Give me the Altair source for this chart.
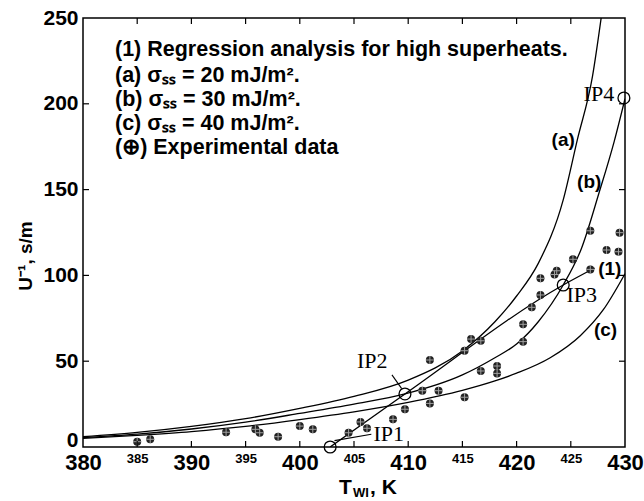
import altair as alt
import pandas as pd

# ---- data ----
# theoretical curves
a_T = [380, 385, 390, 395, 400, 405, 410, 415, 418, 420, 422, 424.3, 425.6, 427, 427.8]
a_U = [6, 8.5, 12, 16.5, 22.5, 29.5, 39, 56, 73, 88, 107, 144, 179, 216, 250]
b_T = [380, 385, 390, 395, 400, 405, 409.7, 415, 418, 420, 422, 424.3, 426, 427.6, 429, 430]
b_U = [5.5, 7.5, 10.5, 14.5, 19.6, 25, 30.9, 42, 52, 60, 73, 94.4, 116, 148, 178, 203]
c_T = [380, 385, 390, 395, 400, 405, 410, 415, 418, 420, 423.1, 425.9, 428, 430]
c_U = [5, 6.8, 9, 12, 16, 20.5, 26, 33, 38.5, 43, 52, 65, 80, 101]
# regression line (1)
r_T = [402.8, 409.7, 424.3, 427.2]
r_U = [0, 30.9, 94.4, 104.3]
# experimental data
exp_T = [385.0, 386.2, 393.2, 395.9, 396.3, 398.0, 400.0, 401.2, 404.5, 405.6, 406.2,
         408.6, 409.7, 411.3, 412.0, 412.0, 412.8, 415.2, 415.2, 415.8, 416.7, 416.7,
         418.2, 418.2, 420.6, 420.6, 421.4, 422.2, 422.2, 423.5, 423.7, 425.2, 426.8,
         426.8, 428.3, 429.4, 429.5]
exp_U = [3.1, 4.5, 8.6, 10.3, 8.3, 6.0, 12.2, 10.3, 8.3, 14.6, 10.9,
         16.1, 22.0, 32.8, 25.4, 50.7, 32.8, 29.0, 56.1, 62.9, 61.9, 44.3,
         47.2, 42.9, 71.5, 61.4, 81.4, 88.6, 98.3, 100.5, 102.7, 109.4, 126.0,
         103.5, 114.8, 113.8, 124.9]
# intersection points
ip_T = [402.8, 409.7, 424.3, 429.9]
ip_U = [0, 30.9, 94.4, 203.4]
ip_names = ["IP1", "IP2", "IP3", "IP4"]
# leader lines for IP labels
lead_id = ["l1", "l1", "l2", "l2"]
lead_T = [403.2, 406.6, 408.5, 409.4]
lead_U = [3.7, 7.4, 42.0, 34.0]

legend_lines = ["(1) Regression analysis for high superheats.",
                "(a) \u03c3\u209b\u209b = 20 mJ/m\u00b2.",
                "(b) \u03c3\u209b\u209b = 30 mJ/m\u00b2.",
                "(c) \u03c3\u209b\u209b = 40 mJ/m\u00b2.",
                "(\u2295) Experimental data"]
legend_T = [382.95] * 5
legend_U = [231.4, 216.2, 202.0, 188.0, 174.1]

curve_labels = ["(a)", "(b)", "(c)", "(1)"]
curve_lab_T = [424.3, 426.7, 428.2, 428.6]
curve_lab_U = [178.9, 154.4, 68.2, 104.0]

ip_lab_T = [406.8, 408.1, 424.6, 429.0]
ip_lab_U = [7.6, 50.0, 88.6, 206.0]
ip_lab_align = ["left", "right", "left", "right"]

x_ticks = [385, 390, 395, 400, 405, 410, 415, 420, 425]
y_ticks = [50, 100, 150, 200]

W, H = 542, 429

xs = alt.Scale(domain=[380, 430], nice=False)
ys = alt.Scale(domain=[0, 250], nice=False)

curves = pd.DataFrame(
    {"T": a_T + b_T + c_T + r_T,
     "U": a_U + b_U + c_U + r_U,
     "c": ["a"] * len(a_T) + ["b"] * len(b_T) + ["c"] * len(c_T) + ["r"] * len(r_T)})

x_axis = alt.Axis(values=[380, 385, 390, 395, 400, 405, 410, 415, 420, 425, 430],
                  title=None, ticks=False, domain=False, grid=False,
                  labelFont="Liberation Sans", labelFontWeight="bold",
                  labelFontSize={"condition": {"test": "datum.value % 10 === 0", "value": 22},
                                 "value": 13},
                  labelColor="black", labelFlush=False, labelOverlap=False, labelPadding=5)
y_axis = alt.Axis(values=[0, 50, 100, 150, 200, 250], title=None, ticks=False,
                  domain=False, grid=False, labelFont="Liberation Sans",
                  labelFontWeight="bold", labelFontSize=21, labelColor="black",
                  labelOffset={"condition": {"test": "datum.value === 0", "value": -7},
                               "value": 0},
                  labelFlush=False, labelPadding=5)

lines = alt.Chart(curves).mark_line(color="black", strokeWidth=1.3, interpolate="monotone",
                                    clip=True).encode(
    x=alt.X("T:Q", scale=xs, axis=x_axis),
    y=alt.Y("U:Q", scale=ys, axis=y_axis),
    detail="c:N")

leads = alt.Chart(pd.DataFrame({"T": lead_T, "U": lead_U, "id": lead_id})).mark_line(
    color="black", strokeWidth=1.1).encode(x="T:Q", y="U:Q", detail="id:N")

exp_df = pd.DataFrame({"T": exp_T, "U": exp_U})
dots = alt.Chart(exp_df).mark_circle(size=64, color="#222222", opacity=1).encode(
    x="T:Q", y="U:Q")
crosses = alt.Chart(exp_df).mark_point(shape="M-1,0L1,0M0,-1L0,1", size=64,
                                       stroke="#a0a0a0", strokeWidth=1,
                                       filled=False, opacity=1).encode(x="T:Q", y="U:Q")

ips = alt.Chart(pd.DataFrame({"T": ip_T, "U": ip_U})).mark_point(
    shape="circle", size=140, stroke="black", strokeWidth=1.3,
    filled=False, opacity=1).encode(x="T:Q", y="U:Q")

ip_lab_df = pd.DataFrame({"T": ip_lab_T, "U": ip_lab_U, "t": ip_names, "al": ip_lab_align})
ip_left = alt.Chart(ip_lab_df[ip_lab_df.al == "left"]).mark_text(
    font="Liberation Serif", fontSize=22, align="left", baseline="middle",
    color="black").encode(x="T:Q", y="U:Q", text="t:N")
ip_right = alt.Chart(ip_lab_df[ip_lab_df.al == "right"]).mark_text(
    font="Liberation Serif", fontSize=22, align="right", baseline="middle",
    color="black").encode(x="T:Q", y="U:Q", text="t:N")

cl = alt.Chart(pd.DataFrame({"T": curve_lab_T, "U": curve_lab_U, "t": curve_labels})).mark_text(
    font="Liberation Sans", fontWeight="bold", fontSize=19, align="center",
    baseline="middle", color="black").encode(x="T:Q", y="U:Q", text="t:N")

leg = alt.Chart(pd.DataFrame({"T": legend_T, "U": legend_U, "t": legend_lines})).mark_text(
    font="Liberation Sans", fontWeight="bold", fontSize=21.5, align="left",
    baseline="middle", color="black").encode(x="T:Q", y="U:Q", text="t:N")

# inward ticks
tick_x_df = pd.DataFrame({"T": x_ticks})
tick_y_df = pd.DataFrame({"U": y_ticks})
tb = alt.Chart(tick_x_df).mark_rule(color="black", strokeWidth=1.2).encode(
    x="T:Q", y=alt.value(H), y2=alt.value(H - 6))
tt = alt.Chart(tick_x_df).mark_rule(color="black", strokeWidth=1.2).encode(
    x="T:Q", y=alt.value(0), y2=alt.value(6))
tl = alt.Chart(tick_y_df).mark_rule(color="black", strokeWidth=1.2).encode(
    y="U:Q", x=alt.value(0), x2=alt.value(6))
tr = alt.Chart(tick_y_df).mark_rule(color="black", strokeWidth=1.2).encode(
    y="U:Q", x=alt.value(W), x2=alt.value(W - 6))

# axis titles
title_df = pd.DataFrame({"t": ["U\u207b\u00b9, s/m"]})
ytitle = alt.Chart(title_df).mark_text(
    font="Liberation Sans", fontWeight="bold", fontSize=19, angle=270,
    align="center", baseline="middle", color="black").encode(
    x=alt.value(-57), y=alt.value(238), text="t:N")
xt1 = alt.Chart(pd.DataFrame({"t": ["T"]})).mark_text(
    font="Liberation Sans", fontWeight="bold", fontSize=21, align="left",
    baseline="alphabetic", color="black").encode(x=alt.value(256), y=alt.value(476), text="t:N")
xt2 = alt.Chart(pd.DataFrame({"t": ["WI"]})).mark_text(
    font="Liberation Sans", fontWeight="bold", fontSize=13, align="left",
    baseline="alphabetic", color="black").encode(x=alt.value(270), y=alt.value(479), text="t:N")
xt3 = alt.Chart(pd.DataFrame({"t": [", K"]})).mark_text(
    font="Liberation Sans", fontWeight="bold", fontSize=21, align="left",
    baseline="alphabetic", color="black").encode(x=alt.value(287), y=alt.value(476), text="t:N")

chart = alt.layer(
    lines, leads, dots, crosses, ips, ip_left, ip_right, cl, leg,
    tb, tt, tl, tr, ytitle, xt1, xt2, xt3
).properties(
    width=W, height=H,
    autosize=alt.AutoSizeParams(type="none"),
    padding={"left": 83, "top": 18, "right": 19, "bottom": 54},
    background="white",
).configure_view(stroke="black", strokeWidth=1.5)

chart.save("out.html", embed_options={"renderer": "svg", "actions": False})
